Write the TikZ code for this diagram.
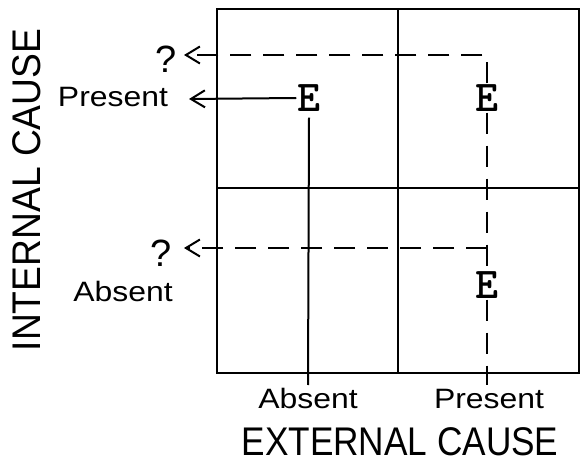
\documentclass[tikz,border=0pt]{standalone}
\usepackage{fontspec}
\setmainfont{Liberation Sans}
\usetikzlibrary{arrows.meta}
\tikzset{
  ln/.style={line width=2pt},
  dsh/.style={line width=2pt, dash pattern=on 21pt off 12pt},
  arr/.style={-{Straight Barb[length=14pt,width=17pt,line width=2pt]}},
  elab/.style={inner sep=1pt, font=\fontsize{44}{44}\ttfamily\bfseries},
  small/.style={inner sep=0pt, anchor=base, font=\fontsize{28}{28}\selectfont},
  qm/.style={inner sep=0pt, anchor=base, font=\fontsize{38}{38}\selectfont},
  big/.style={inner sep=0pt, anchor=base, font=\fontsize{40}{40}\selectfont},
}
\newcommand{\wide}[1]{\scalebox{1.14}[1]{#1}}
\begin{document}
\begin{tikzpicture}[x=1pt,y=-1pt]
\useasboundingbox (0,0) rectangle (581,462);
% grid
\coordinate (tl) at (217,9);
\coordinate (br) at (579,373);
\draw[ln] (tl) rectangle (br);
\coordinate (vt) at (398,9);
\coordinate (vb) at (398,373);
\draw[ln] (vt) -- (vb);
\coordinate (hl) at (217,188);
\coordinate (hr) at (579,188);
\draw[ln] (hl) -- (hr);
% E labels
\node[elab] (e1) at (309,98) {E};
\node[elab] (e2) at (487,98) {E};
\node[elab] (e3) at (487,285) {E};
% arrow targets
\coordinate (t1) at (184,55);
\coordinate (t2) at (189,99);
\coordinate (t3) at (184,248);
\coordinate (c1) at (487,55);
\coordinate (c3) at (487,248);
\coordinate (b1) at (308,385);
\coordinate (b2) at (487,385);
% solid
\draw[ln,arr] (e1.west) -- (t2);
\draw[ln] (e1.south) ++(0,5) -- (b1);
% dashed
\draw[dsh,arr] (e2.north) -- (c1) -- (t1);
\draw[dsh,arr] (c3) -- (t3);
\draw[ln] (481,248) -- (c3);
\draw[dsh] (e2.south) -- (e3.north);
\draw[dsh] (e3.south) -- (b2);
% labels
\node[qm] (q1) at (166,73) {?};
\node[qm] (q2) at (161,267) {?};
\node[small] (lp) at (113,107) {\wide{Present}};
\node[small] (la) at (123,302) {\wide{Absent}};
\node[small] (ba) at (308,408) {\wide{Absent}};
\node[small] (bp) at (489,408) {\wide{Present}};
\node[big] (ext) at (400,455) {\scalebox{0.88}[1]{EXTERNAL CAUSE}};
\node[big, rotate=90] (int) at (40,190) {\scalebox{0.93}[1]{INTERNAL CAUSE}};
\end{tikzpicture}
\end{document}
